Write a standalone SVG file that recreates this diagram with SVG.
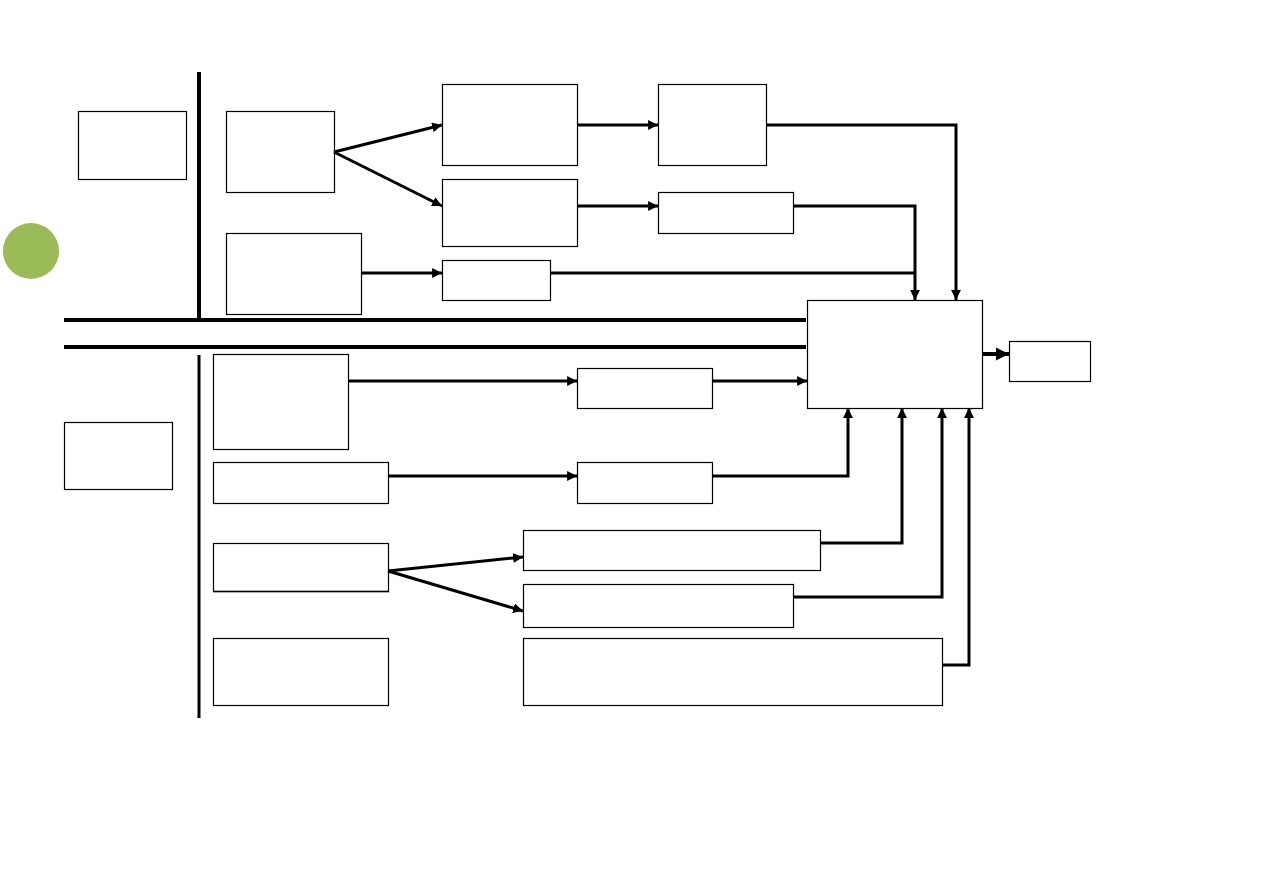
<svg xmlns="http://www.w3.org/2000/svg" width="1263" height="893" viewBox="0 0 1263 893">
<style>
.box{fill:#fff;stroke:#000;stroke-width:1.2}
.c{fill:none;stroke:#000;stroke-width:3;marker-end:url(#ah)}
.l{fill:none;stroke:#000;stroke-width:3}
.bus{fill:none;stroke:#000;stroke-width:4}
</style>
<defs>
<marker id="ah" viewBox="0 0 10 10" refX="10" refY="5" markerWidth="3.3" markerHeight="3.3" orient="auto" markerUnits="strokeWidth">
<path d="M0,0 L10,5 L0,10 z" fill="#000"/>
</marker>
</defs>
<rect width="1263" height="893" fill="#fff"/>
<circle id="dot" cx="31" cy="251" r="28" fill="#9bbb59"/>
<g id="bus">
<line class="bus" x1="199" y1="72" x2="199" y2="320"/>
<line class="bus" x1="199" y1="355" x2="199" y2="718" style="stroke-width:3"/>
<line class="bus" x1="64" y1="320" x2="806" y2="320"/>
<line class="bus" x1="64" y1="347" x2="806" y2="347"/>
</g>
<g id="nA"><rect class="box" x="78.5" y="111.5" width="108" height="68"/></g>
<g id="nB"><rect class="box" x="64.5" y="422.5" width="108" height="67"/></g>
<g id="nC"><rect class="box" x="226.5" y="111.5" width="108" height="81"/></g>
<g id="nD"><rect class="box" x="226.5" y="233.5" width="135" height="81"/></g>
<g id="nE"><rect class="box" x="442.5" y="84.5" width="135" height="81"/></g>
<g id="nF"><rect class="box" x="442.5" y="179.5" width="135" height="67"/></g>
<g id="nG"><rect class="box" x="442.5" y="260.5" width="108" height="40"/></g>
<g id="nH"><rect class="box" x="658.5" y="84.5" width="108" height="81"/></g>
<g id="nI"><rect class="box" x="658.5" y="192.5" width="135" height="41"/></g>
<g id="nJ"><rect class="box" x="807.5" y="300.5" width="175" height="108"/></g>
<g id="nK"><rect class="box" x="1009.5" y="341.5" width="81" height="40"/></g>
<g id="nL"><rect class="box" x="213.5" y="354.5" width="135" height="95"/></g>
<g id="nM"><rect class="box" x="213.5" y="462.5" width="175" height="41"/></g>
<g id="nN"><rect class="box" x="213.5" y="543.5" width="175" height="48"/><line x1="213" y1="591.5" x2="389" y2="591.5" stroke="#000" stroke-width="1.5"/></g>
<g id="nO"><rect class="box" x="213.5" y="638.5" width="175" height="67"/></g>
<g id="nP"><rect class="box" x="577.5" y="368.5" width="135" height="40"/></g>
<g id="nQ"><rect class="box" x="577.5" y="462.5" width="135" height="41"/></g>
<g id="nR"><rect class="box" x="523.5" y="530.5" width="297" height="40"/></g>
<g id="nS"><rect class="box" x="523.5" y="584.5" width="270" height="43"/></g>
<g id="nT"><rect class="box" x="523.5" y="638.5" width="419" height="67"/></g>
<g id="connectors">
<line class="c" x1="334" y1="152" x2="442" y2="125"/>
<line class="c" x1="334" y1="152" x2="442" y2="206"/>
<line class="c" x1="361" y1="273" x2="442" y2="273"/>
<line class="c" x1="577" y1="125" x2="658" y2="125"/>
<line class="c" x1="577" y1="206" x2="658" y2="206"/>
<polyline class="c" points="766,125 956,125 956,300"/>
<polyline class="c" points="793,206 915,206 915,300"/>
<line class="l" x1="550" y1="273" x2="915" y2="273"/>
<line class="c" x1="348" y1="381" x2="577" y2="381"/>
<line class="c" x1="712" y1="381" x2="807" y2="381"/>
<line class="c" x1="388" y1="476" x2="577" y2="476"/>
<polyline class="c" points="712,476 848,476 848,408"/>
<line class="c" x1="388" y1="571" x2="523" y2="557"/>
<line class="c" x1="388" y1="571" x2="523" y2="611"/>
<polyline class="c" points="820,543 902,543 902,408"/>
<polyline class="c" points="793,597 942,597 942,408"/>
<polyline class="c" points="942,665 969,665 969,408"/>
<line class="c" x1="982" y1="354" x2="1009" y2="354" style="stroke-width:4"/>
</g>
</svg>
